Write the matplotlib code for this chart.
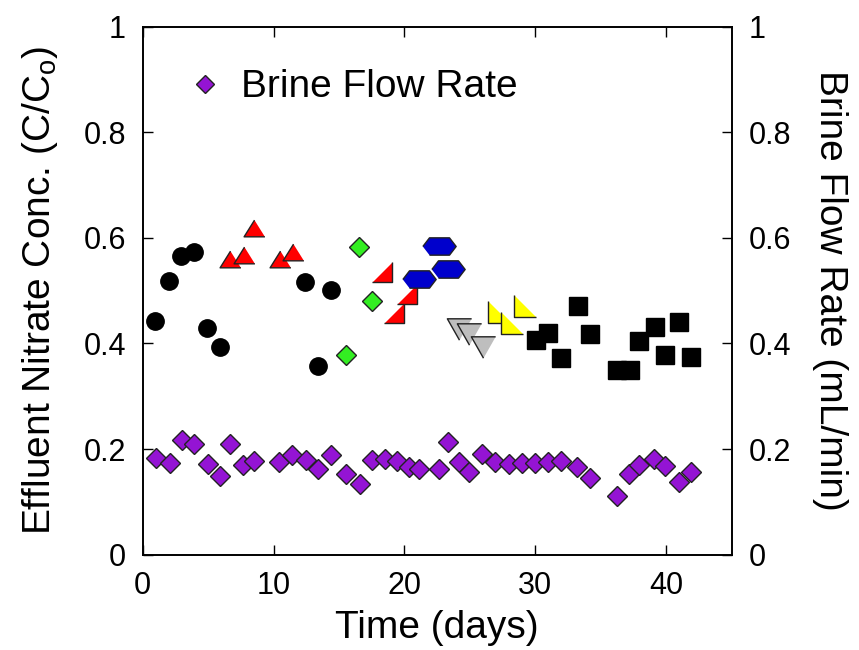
import numpy as np
import matplotlib
matplotlib.use("Agg")
import matplotlib.pyplot as plt
from matplotlib.ticker import FixedLocator, FixedFormatter

plt.rcParams['font.family'] = ['Liberation Sans', 'DejaVu Sans']
plt.rcParams['mathtext.fontset'] = 'custom'
plt.rcParams['mathtext.rm'] = 'Liberation Sans'
plt.rcParams['mathtext.it'] = 'Liberation Sans'

# effluent nitrate, grouped by run (marker groups)
circle_x = [0.95, 2.0, 2.95, 3.95, 4.9, 5.9, 12.4, 13.4, 14.4]
circle_y = [0.443, 0.519, 0.565, 0.574, 0.430, 0.394, 0.516, 0.357, 0.501]

redup_x = [6.67, 7.71, 8.5, 10.46, 11.46]
redup_y = [0.559, 0.568, 0.619, 0.560, 0.573]

green_x = [15.5, 16.55, 17.5]
green_y = [0.378, 0.582, 0.480]

redrt_x = [18.3, 19.22, 20.21]
redrt_y = [0.536, 0.457, 0.493]

blue_x = [21.13, 22.61, 23.32]
blue_y = [0.522, 0.585, 0.541]

gray_x = [24.14, 24.93, 25.97]
gray_y = [0.427, 0.417, 0.394]

yellow_x = [27.24, 28.19, 29.23]
yellow_y = [0.460, 0.438, 0.470]

square_x = [30.05, 30.94, 31.96, 33.23, 34.19, 36.25, 37.24, 37.89, 39.15, 39.94, 40.96, 41.9]
square_y = [0.407, 0.419, 0.373, 0.470, 0.417, 0.349, 0.349, 0.405, 0.431, 0.378, 0.440, 0.375]

# brine flow rate (right axis)
brine_x = [0.99, 2.09, 2.98, 3.94, 4.97, 5.93, 6.67, 7.64, 8.53, 10.44, 11.43, 12.45,
           13.41, 14.41, 15.53, 16.58, 17.52, 18.51, 19.43, 20.37, 21.13, 22.61, 23.35,
           24.16, 24.93, 25.92, 26.91, 27.96, 28.98, 30.01, 30.94, 31.93, 33.2, 34.15,
           36.26, 37.15, 37.91, 39.08, 39.9, 40.97, 41.86]
brine_y = [0.184, 0.173, 0.217, 0.209, 0.172, 0.149, 0.209, 0.170, 0.177, 0.175, 0.188, 0.180,
           0.162, 0.188, 0.153, 0.134, 0.180, 0.182, 0.177, 0.167, 0.163, 0.163, 0.214,
           0.175, 0.156, 0.191, 0.175, 0.172, 0.174, 0.174, 0.175, 0.177, 0.167, 0.146,
           0.112, 0.153, 0.170, 0.182, 0.168, 0.137, 0.156]

y_ticks = [0, 0.2, 0.4, 0.6, 0.8, 1]
y_labels = ['0', '0.2', '0.4', '0.6', '0.8', '1']
x_ticks = [0, 10, 20, 30, 40]

# custom marker shapes
tri_up = [(0, 0.8), (-1, -0.8), (1, -0.8)]
tri_dn = [(0, -0.88), (-1, 0.88), (1, 0.88)]
tri_br = [(-1, -1), (1, -1), (1, 1)]   # right angle bottom-right
tri_bl = [(-1, 1), (-1, -1), (1, -1)]  # right angle bottom-left
hexa = [(-1, 0), (-0.6, 0.52), (0.6, 0.52), (1, 0), (0.6, -0.52), (-0.6, -0.52)]

fig = plt.figure(figsize=(8.59, 6.5), dpi=100)
ax = fig.add_axes([0.1661, 0.1466, 0.6857, 0.8126])
ec = '#222222'

ax.plot(circle_x, circle_y, 'o', ms=12.5, mfc='black', mec='black', ls='none')
ax.plot(redup_x, redup_y, marker=tri_up, ms=15, mfc='#FF0000', mec=ec, mew=1, ls='none')
ax.plot(green_x, green_y, 'D', ms=10, mfc='#33EE22', mec=ec, mew=1, ls='none')
ax.plot(redrt_x, redrt_y, marker=tri_br, ms=15, mfc='#FF0000', mec=ec, mew=1, ls='none')
ax.plot(blue_x, blue_y, marker=hexa, ms=24, mfc='#0000CC', mec=ec, mew=1, ls='none')
ax.plot(gray_x, gray_y, marker=tri_dn, ms=17.5, mfc='#BEBEBE', mec=ec, mew=1, ls='none')
ax.plot(yellow_x, yellow_y, marker=tri_bl, ms=16, mfc='#FFFF00', mec=ec, mew=1, ls='none')
ax.plot(square_x, square_y, 's', ms=12.9, mfc='black', mec='black', ls='none')

ax.set_xlim(0, 45)
ax.set_ylim(0, 1)
ax.xaxis.set_major_locator(FixedLocator(x_ticks))
ax.yaxis.set_major_locator(FixedLocator(y_ticks))
ax.yaxis.set_major_formatter(FixedFormatter(y_labels))
ax.tick_params(direction='in', length=7, width=1, labelsize=22, top=True, pad=12)
ax.set_xlabel('Time (days)', fontsize=28, labelpad=6)
ax.set_ylabel(r'Effluent Nitrate Conc. (C/C$_{\rm o}$)', fontsize=28, labelpad=17)

ax2 = ax.twinx()
br, = ax2.plot(brine_x, brine_y, 'D', ms=10, mfc='#9414D4', mec=ec, mew=1, ls='none',
               label='Brine Flow Rate')
ax2.set_ylim(0, 1)
ax2.yaxis.set_major_locator(FixedLocator(y_ticks))
ax2.yaxis.set_major_formatter(FixedFormatter(y_labels))
ax2.tick_params(direction='in', length=7, width=1, labelsize=22, pad=12)
ax2.set_ylabel('Brine Flow Rate (mL/min)', fontsize=28, rotation=270, labelpad=41)

for a in (ax, ax2):
    for s in a.spines.values():
        s.set_linewidth(1.2)

ax2.legend(handles=[br], loc='center left', bbox_to_anchor=(0.0134, 0.885), frameon=False,
           fontsize=28, markerscale=0.88, handlelength=1.0, handletextpad=0.43)

fig.savefig('out.png', dpi=100)
